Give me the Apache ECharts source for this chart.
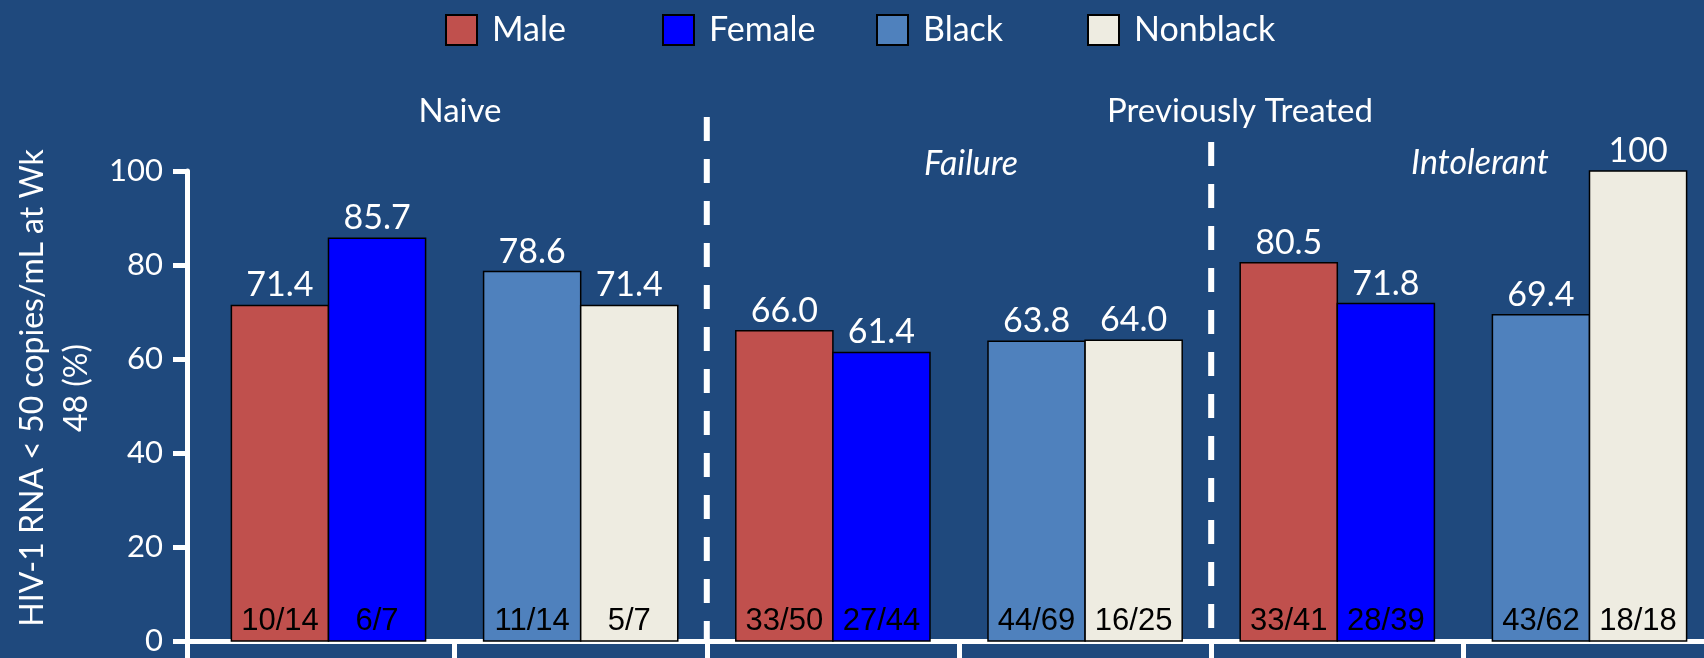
<!DOCTYPE html>
<html>
<head>
<meta charset="utf-8">
<script src="https://cdn.jsdelivr.net/npm/echarts@6/dist/echarts.min.js"></script>
<style>
  html, body { margin: 0; padding: 0; background: #1F497D; }
  #chart { width: 1704px; height: 658px; }
</style>
</head>
<body>
<div id="chart"></div>
<script>
// Week-48 response (HIV-1 RNA < 50 copies/mL) by sex and race in each cohort
const cohorts = ['Naive', 'Failure', 'Intolerant'];
const seriesNames = ['Male', 'Female', 'Black', 'Nonblack'];

const maleValues = [71.4, 66.0, 80.5];
const femaleValues = [85.7, 61.4, 71.8];
const blackValues = [78.6, 63.8, 69.4];
const nonblackValues = [71.4, 64.0, 100];

const maleCounts = ['10/14', '33/50', '33/41'];
const femaleCounts = ['6/7', '27/44', '28/39'];
const blackCounts = ['11/14', '44/69', '43/62'];
const nonblackCounts = ['5/7', '16/25', '18/18'];

const yTickStep = 20;
const yMax = 100;

// ---- layout / style constants ----
const COLORS = ['#C0504D', '#0000FF', '#4F81BD', '#EEECE1'];
const BG = '#1F497D';
const X_MIN = -0.561, X_MAX = 5.454;        // slot axis extent (each cohort has a sex slot and a race slot)
const BAR_FRACTION = 0.385;                  // bar width as a share of one slot
const SLOT_TICKS = [X_MIN, 0.5, 1.5, 2.5, 3.5, 4.5];
const LEGEND_LEFT = [445, 662, 876, 1087];
const LABEL_FONT = 'Lato, "Open Sans", sans-serif';

const fmt = v => (v >= 100 ? String(v) : v.toFixed(1));

// cohort k: sex pair sits in slot 2k, race pair in slot 2k+1
function slotData(values, slotOffset) {
  return values.map((v, k) => [2 * k + slotOffset, v]);
}

function barSeries(name, color, values, counts, slotOffset, side) {
  return {
    name: name,
    type: 'custom',
    coordinateSystem: 'cartesian2d',
    itemStyle: { color: color, borderColor: '#000', borderWidth: 1.5 },
    encode: { x: 0, y: 1 },
    data: slotData(values, slotOffset),
    renderItem: function (params, api) {
      const slot = api.value(0);
      const v = api.value(1);
      const w = api.size([1, 0])[0] * BAR_FRACTION;
      const top = api.coord([slot, v]);
      const base = api.coord([slot, 0]);
      const x0 = side < 0 ? top[0] - w : top[0];
      const cx = x0 + w / 2;
      return {
        type: 'group',
        children: [
          {
            type: 'rect',
            shape: { x: x0, y: top[1], width: w, height: base[1] - top[1] },
            style: { fill: color, stroke: '#000', lineWidth: 1.5 }
          },
          {
            type: 'text',
            style: {
              text: fmt(v), x: cx, y: top[1] - 3,
              align: 'center', verticalAlign: 'bottom',
              fill: '#fff', font: '34px ' + LABEL_FONT
            }
          },
          {
            type: 'text',
            style: {
              text: counts[params.dataIndex], x: cx, y: base[1] - 4,
              align: 'center', verticalAlign: 'bottom',
              fill: '#000', font: '31px "Liberation Sans", Arial, sans-serif'
            }
          }
        ]
      };
    }
  };
}

const chart = echarts.init(document.getElementById('chart'), null, { renderer: 'canvas' });

const legends = seriesNames.map((name, i) => ({
  data: [name],
  left: LEGEND_LEFT[i],
  top: 13,
  padding: 0,
  icon: 'rect',
  itemWidth: 31,
  itemHeight: 30,
  selectedMode: false,
  itemStyle: { borderColor: '#000', borderWidth: 2 },
  textStyle: { color: '#fff', fontFamily: LABEL_FONT, fontSize: 34, padding: [4, 0, 0, 10] }
}));

const option = {
  backgroundColor: BG,
  animation: false,
  color: COLORS,
  textStyle: { fontFamily: LABEL_FONT },
  grid: { left: 187, right: 0, top: 171, bottom: 17, containLabel: false },
  legend: legends,
  xAxis: {
    type: 'value',
    min: X_MIN,
    max: X_MAX,
    axisLine: { show: true, onZero: false, lineStyle: { color: '#fff', width: 5 } },
    axisTick: { show: true, customValues: SLOT_TICKS, length: 17, lineStyle: { color: '#fff', width: 5 } },
    axisLabel: { show: false },
    splitLine: { show: false }
  },
  yAxis: {
    type: 'value',
    min: 0,
    max: yMax,
    interval: yTickStep,
    axisLine: { show: true, onZero: false, lineStyle: { color: '#fff', width: 5 } },
    axisTick: { show: true, length: 14, lineStyle: { color: '#fff', width: 5 } },
    axisLabel: { color: '#fff', fontFamily: LABEL_FONT, fontSize: 31, margin: 24 },
    splitLine: { show: false }
  },
  series: [
    barSeries('Male', COLORS[0], maleValues, maleCounts, 0, -1),
    barSeries('Female', COLORS[1], femaleValues, femaleCounts, 0, 1),
    barSeries('Black', COLORS[2], blackValues, blackCounts, 1, -1),
    barSeries('Nonblack', COLORS[3], nonblackValues, nonblackCounts, 1, 1)
  ]
};

chart.setOption(option);

// cohort separators sit between slots, headings above each section
const sepX1 = chart.convertToPixel({ xAxisIndex: 0 }, 1.5);
const sepX2 = chart.convertToPixel({ xAxisIndex: 0 }, 3.5);
const axisY0 = chart.convertToPixel({ yAxisIndex: 0 }, 0);
const white = '#fff';
const headFont = '33px ' + LABEL_FONT;
const italicFont = 'italic 34px ' + LABEL_FONT;

chart.setOption({
  graphic: [
    { type: 'line', shape: { x1: sepX1, y1: 117, x2: sepX1, y2: axisY0 },
      style: { stroke: white, lineWidth: 6, lineDash: [24, 18] }, z: 10 },
    { type: 'line', shape: { x1: sepX2, y1: 142, x2: sepX2, y2: axisY0 },
      style: { stroke: white, lineWidth: 6, lineDash: [24, 18] }, z: 10 },
    { type: 'text', x: 460, y: 111,
      style: { text: cohorts[0], fill: white, font: headFont, align: 'center', verticalAlign: 'middle' } },
    { type: 'text', x: 1240, y: 111,
      style: { text: 'Previously Treated', fill: white, font: headFont, align: 'center', verticalAlign: 'middle' } },
    { type: 'text', x: 971, y: 164,
      style: { text: cohorts[1], fill: white, font: italicFont, align: 'center', verticalAlign: 'middle' } },
    { type: 'text', x: 1480, y: 163,
      style: { text: cohorts[2], fill: white, font: italicFont, align: 'center', verticalAlign: 'middle' } },
    { type: 'text', x: 55, y: 388, rotation: Math.PI / 2,
      style: { text: 'HIV-1 RNA < 50 copies/mL at Wk\n48 (%)', fill: white, font: '32px ' + LABEL_FONT,
               align: 'center', verticalAlign: 'middle', lineHeight: 44 } }
  ]
});
</script>
</body>
</html>
